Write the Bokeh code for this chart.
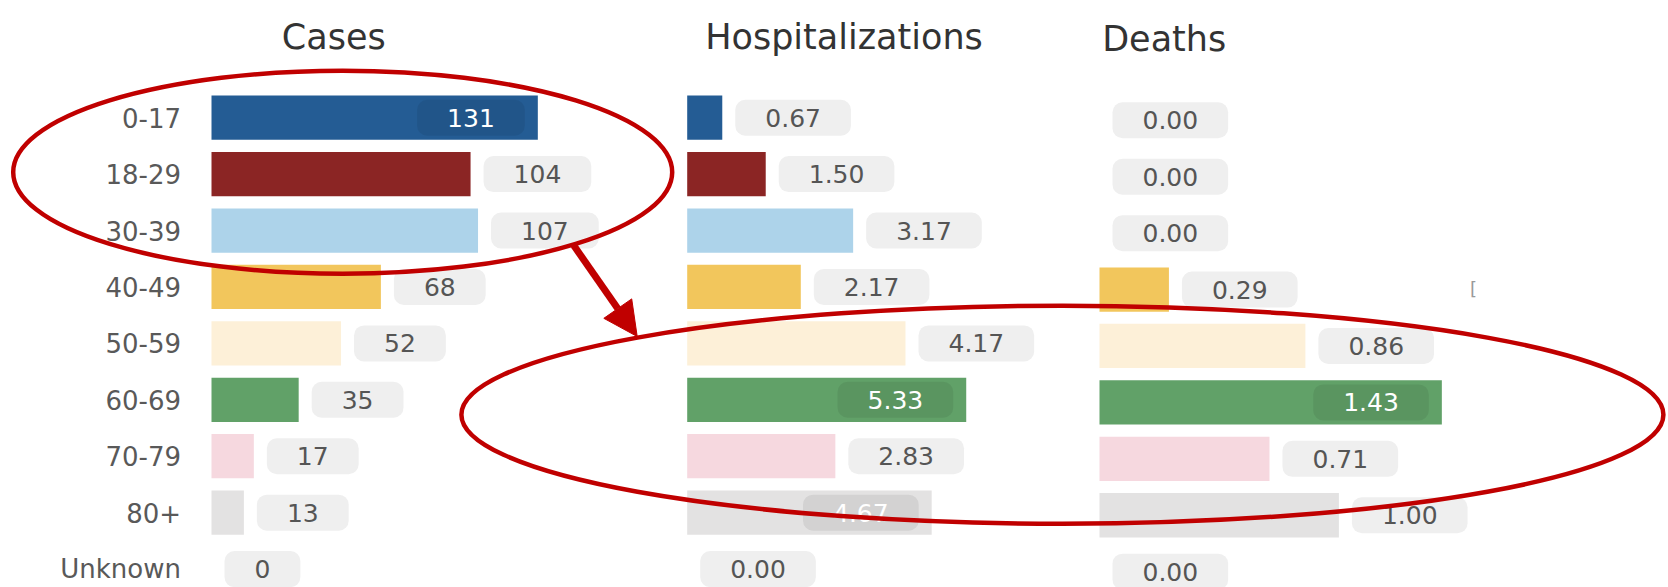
from bokeh.plotting import figure
from bokeh.models import Range1d, Arrow, NormalHead, ColumnDataSource
from bokeh.core.properties import value
from bokeh.embed import file_html
from bokeh.resources import INLINE

# ---------------- data ----------------
categories = ["0-17", "18-29", "30-39", "40-49", "50-59", "60-69", "70-79", "80+", "Unknown"]
cases = [131, 104, 107, 68, 52, 35, 17, 13, 0]
hospitalizations = [0.67, 1.50, 3.17, 2.17, 4.17, 5.33, 2.83, 4.67, 0.00]
deaths = [0.00, 0.00, 0.00, 0.29, 0.86, 1.43, 0.71, 1.00, 0.00]
bar_colors = ["#245C94", "#8B2524", "#ADD3EA", "#F2C65C", "#FDF0D8",
              "#61A168", "#F6D8DF", "#E3E2E2", "#E3E2E2"]
titles = ["Cases", "Hospitalizations", "Deaths"]

# ---------------- layout ----------------
W, H = 1668, 587
FONT = value("DejaVu Sans")
RED = "#C00000"


def x_range(zero_px, px_per_unit):
    return Range1d(-zero_px / px_per_unit, (W - zero_px) / px_per_unit)


def row_range(row0_px, px_per_row):
    return Range1d(start=(H - row0_px) / px_per_row, end=-row0_px / px_per_row)


p = figure(width=W, height=H, output_backend="svg", toolbar_location=None,
           x_range=Range1d(0, W), y_range=Range1d(H, 0),
           x_axis_location=None, y_axis_location=None,
           min_border=0, outline_line_color=None,
           background_fill_color="white", border_fill_color="white")
for g in p.grid:
    g.visible = False

p.extra_x_ranges = {
    "cases": x_range(211.0, 2.491),
    "hosp": x_range(686.7, 52.35),
    "deaths": x_range(1099.0, 239.4),
}
p.extra_y_ranges = {
    "rows": row_range(117.2, 56.42),
    "rows_d": row_range(119.8, 56.42),
}

idx = list(range(len(categories)))

panels = [
    ("cases", cases, "rows", lambda v: f"{v:.0f}"),
    ("hosp", hospitalizations, "rows", lambda v: f"{v:.2f}"),
    ("deaths", deaths, "rows_d", lambda v: f"{v:.2f}"),
]

for xname, vals, yname, fmt in panels:
    src = ColumnDataSource(dict(y=idx, v=vals, color=bar_colors))
    p.hbar(y="y", left=0, right="v", height=0.785, source=src,
           fill_color="color", line_color=None,
           x_range_name=xname, y_range_name=yname)

    vmax = max(vals)
    out_d = dict(y=[], v=[], label=[])
    in_d = dict(y=[], v=[], label=[])
    for i, v in zip(idx, vals):
        d = in_d if v >= 0.85 * vmax else out_d
        d["y"].append(i)
        d["v"].append(v)
        d["label"].append(fmt(v))

    p.text(x="v", y="y", text="label", source=ColumnDataSource(out_d),
           x_range_name=xname, y_range_name=yname,
           text_align="left", text_baseline="middle", x_offset=13,
           text_font=FONT, text_font_size="25px", text_color="#555555",
           background_fill_color="#EFEFEF", border_radius=10,
           padding=dict(x=30, y=9))
    p.text(x="v", y="y", text="label", source=ColumnDataSource(in_d),
           x_range_name=xname, y_range_name=yname,
           text_align="right", text_baseline="middle", x_offset=-13,
           text_font=FONT, text_font_size="25px", text_color="white",
           background_fill_color="black", background_fill_alpha=0.07,
           border_radius=10, padding=dict(x=30, y=9))

# row labels
p.text(x=[180.5] * len(categories), y=idx, text=categories, y_range_name="rows",
       text_align="right", text_baseline="middle",
       text_font=FONT, text_font_size="26px", text_color="#595959")

# panel titles
p.text(x=[333.3, 843.5, 1163.7], y=[36.8, 36.8, 38.9], text=titles,
       text_align="center", text_baseline="alphabetic",
       text_font=FONT, text_font_size="35px", text_color="#333333")

# small stray bracket seen in the original screenshot
p.text(x=[1473], y=[288], text=["["], text_align="center", text_baseline="middle",
       text_font=FONT, text_font_size="18px", text_color="#9A9A9A")

# red highlight annotations
p.ellipse(x=[342.2], y=[171.7], width=659, height=203,
          fill_color=None, line_color=RED, line_width=4.5)
p.ellipse(x=[1061.9], y=[414.2], width=1202, height=218,
          fill_color=None, line_color=RED, line_width=4.5)
p.add_layout(Arrow(end=NormalHead(size=34, fill_color=RED, line_color=RED),
                   x_start=573.3, y_start=245, x_end=636.7, y_end=336,
                   line_color=RED, line_width=7))

open("out.html", "w").write(file_html(p, INLINE))
